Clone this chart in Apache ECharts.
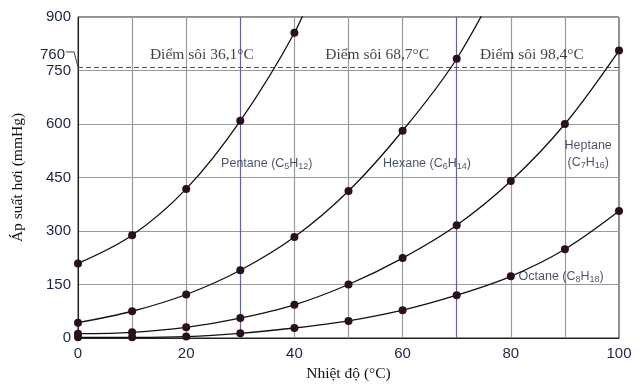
<!DOCTYPE html>
<html><head><meta charset="utf-8">
<script src="https://cdn.jsdelivr.net/npm/echarts@6/dist/echarts.min.js"></script>
<style>html,body{margin:0;padding:0;background:#fff}#c{width:640px;height:387px}</style>
</head><body><div id="c"></div>
<script>
const temps = [0,10,20,30,40,50,60,70,80,90,100];
const pentane = [209,288,418,609,856];
const hexane = [43,75,122,190,283,412,581,783];
const heptane = [12,16,30,56,93,150,224,316,440,600,806];
const octane = [2,2,4,13,28,48,78,120,173,249,356];
const pentaneTail = [45,1030];
const hexaneTail = [80,1062];
const atm = 760;
const boilingPoints = [36.1,68.7,98.4];
const boilingLabels = ['Điểm sôi 36,1°C','Điểm sôi 68,7°C','Điểm sôi 98,4°C'];
const boilingLabelAnchors = [[22.9,794],[55.3,794],[83.9,794]];
const curveNames = ['Pentane','Hexane','Heptane','Octane'];
const curveLabels = ['{n|Pentane (C}{s|5}{n|H}{s|12}{n|)}','{n|Hexane (C}{s|6}{n|H}{s|14}{n|)}','{n|Heptane}\n{n|(C}{s|7}{n|H}{s|16}{n|)}','{n|Octane (C}{s|8}{n|H}{s|18}{n|)}'];
const curveLabelAnchors = [[34.9,488],[64.5,488],[94.3,516],[89.3,173]];
const xTicks = [0,20,40,60,80,100];
const yTicks = [0,150,300,450,600,750,900];

const navy = '#1c2545';
const serif = '"Liberation Serif","DejaVu Serif",serif';
const sans = '"Liberation Sans",Arial,sans-serif';

function pts(vals, tail){
  const d = vals.map((v,i)=>[temps[i], v]);
  if (tail) d.push({value: tail, symbol:'none'});
  return d;
}
const richSub = {
  n:{fontSize:12.5, color:navy, fontFamily:sans, lineHeight:17},
  s:{fontSize:9, color:navy, fontFamily:sans, padding:[6,0,0,0], lineHeight:17}
};
const lineSeries = [
  pts(pentane, pentaneTail), pts(hexane, hexaneTail), pts(heptane), pts(octane)
].map((d,i)=>({
  name: curveNames[i], type:'line', data:d, smooth:0.35,
  symbol:'circle', symbolSize:8, clip:true,
  itemStyle:{color:'#2a0f1c'}, lineStyle:{color:'#111', width:1.3},
  z:5
}));
lineSeries[3].markLine = {
  silent:true, symbol:'none', label:{show:false},
  lineStyle:{type:[5,3], color:'#555', width:1},
  data:[{yAxis:atm}]
};
const textSeries = {
  type:'scatter', symbol:'circle', symbolSize:1, silent:true,
  itemStyle:{color:'rgba(0,0,0,0)'},
  data: boilingLabelAnchors.map((p,i)=>({value:p, label:{formatter:boilingLabels[i]}})),
  label:{show:true, position:'inside', color:'#111', fontFamily:serif, fontSize:15.5}
};
const curveTextSeries = {
  type:'scatter', symbol:'circle', symbolSize:1, silent:true,
  itemStyle:{color:'rgba(0,0,0,0)'},
  data: curveLabelAnchors.map((p,i)=>({value:p, label:{formatter:curveLabels[i]}})),
  label:{show:true, position:'inside', align:'center', rich:richSub}
};
const gridBlue = '#62659a', gridGray = '#9a9a9a';
const chart = echarts.init(document.getElementById('c'));
chart.setOption({
  animation:false,
  grid:{left:78, right:21, top:17, bottom:49, show:true, borderColor:'#222', borderWidth:1},
  xAxis:{
    type:'value', min:0, max:100, interval:10,
    name:'Nhiệt độ (°C)', nameLocation:'middle', nameGap:26,
    nameTextStyle:{fontFamily:serif, fontSize:15.5, color:'#111'},
    axisLine:{lineStyle:{color:'#222'}}, axisTick:{show:false},
    axisLabel:{formatter:v=>xTicks.includes(v)?String(v):'', fontFamily:sans, fontSize:15, color:navy, margin:8},
    splitLine:{show:true, lineStyle:{width:1.2, color: temps.map(t=>(t===30||t===70)?gridBlue:gridGray)}}
  },
  yAxis:{
    type:'value', min:0, max:900, interval:150,
    name:'Áp suất hơi (mmHg)', nameLocation:'middle', nameGap:52,
    nameTextStyle:{fontFamily:serif, fontSize:15.5, color:'#111'},
    axisLine:{show:true, lineStyle:{color:'#222'}}, axisTick:{show:false},
    axisLabel:{formatter:v=>yTicks.includes(v)?String(v):'', fontFamily:sans, fontSize:15, color:navy, margin:7},
    splitLine:{show:true, lineStyle:{width:1.2, color:gridGray}}
  },
  series:[...lineSeries, textSeries, curveTextSeries]
});
const p0 = chart.convertToPixel({gridIndex:0}, [0, atm]);
chart.setOption({graphic:[
  {type:'polyline', silent:true, shape:{points:[[p0[0]-12,p0[1]-15],[p0[0]-4,p0[1]-15],[p0[0],p0[1]]]}, style:{stroke:'#444', lineWidth:1, fill:null}},
  {type:'text', silent:true, x:p0[0]-13, y:p0[1]-12, style:{text:String(atm), align:'right', verticalAlign:'middle', font:'15px '+sans, fill:navy}}
]});
</script>
</body></html>
